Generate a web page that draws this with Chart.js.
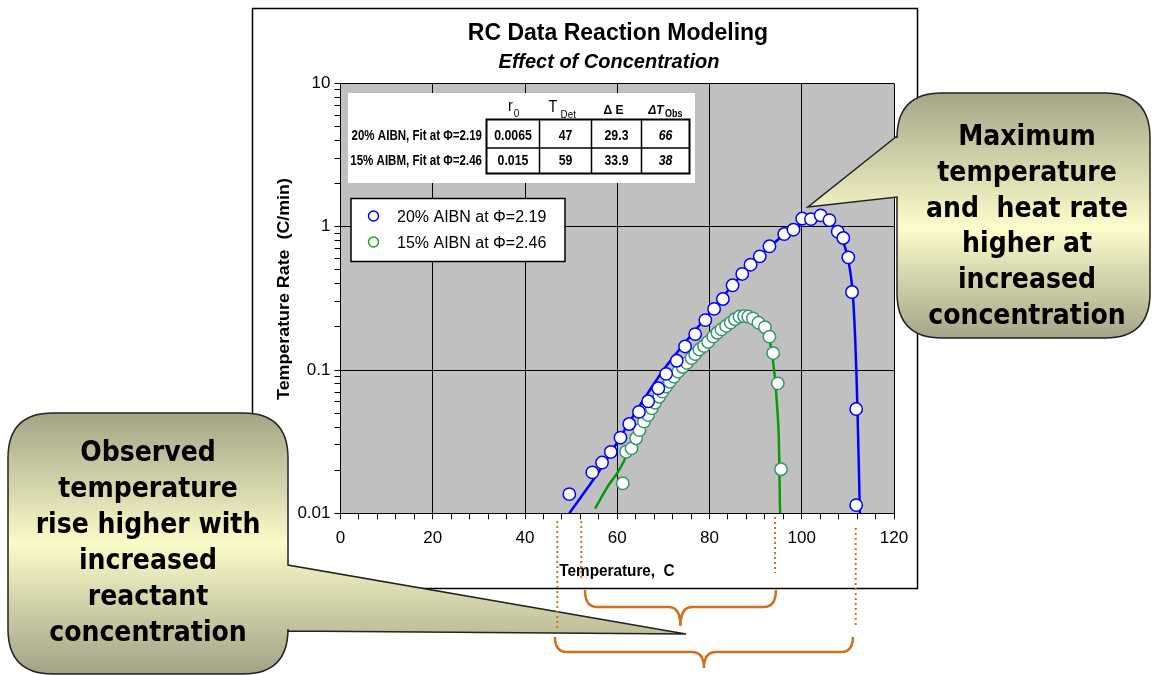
<!DOCTYPE html>
<html>
<head>
<meta charset="utf-8">
<script src="https://cdn.jsdelivr.net/npm/chart.js@4.4.1/dist/chart.umd.min.js"></script>
<style>
  html, body { margin: 0; padding: 0; background: #fff; }
  #wrap { width: 1152px; height: 675px; position: relative; }
</style>
</head>
<body>
<div id="wrap"><canvas id="chart"></canvas></div>
<script>
// observed points, 20% AIBN
const blueTemp = [49.6, 54.6, 56.7, 58.6, 60.7, 62.6, 64.7, 66.7, 68.9, 70.6, 72.9, 74.7, 76.9, 79.1, 81.0,
  82.9, 85.0, 87.1, 88.9, 90.9, 93.0, 96.2, 98.2, 100.1, 102.0, 104.1, 106.0, 107.8, 109.0, 110.1, 110.9, 111.8, 111.8];
const blueRate = [0.0136, 0.0193, 0.0226, 0.0268, 0.0337, 0.042, 0.051, 0.0605, 0.0745, 0.094, 0.116, 0.146, 0.178, 0.223, 0.267,
  0.313, 0.39, 0.468, 0.543, 0.621, 0.73, 0.889, 0.953, 1.14, 1.13, 1.2, 1.11, 0.923, 0.834, 0.611, 0.35, 0.0534, 0.0114];

// observed points, 15% AIBN
const greenTemp = [61.2, 61.9, 63.1, 64.1, 64.8, 65.8, 66.7, 67.5, 68.2, 69.1, 69.8, 70.6, 71.4, 72.3, 73.2, 74.2, 75.1, 76.1, 76.9,
  77.8, 78.8, 79.7, 80.8, 81.7, 82.6, 83.6, 84.6, 85.5, 86.5, 87.5, 88.4, 89.4, 90.6, 92.0, 93.0, 93.8, 94.8, 95.5];
const greenRate = [0.0162, 0.0269, 0.0284, 0.0334, 0.0381, 0.0436, 0.0485, 0.054, 0.0591, 0.0651, 0.0706, 0.0765, 0.0828, 0.0898, 0.0973, 0.105, 0.112, 0.121, 0.129,
  0.139, 0.147, 0.157, 0.171, 0.182, 0.192, 0.203, 0.214, 0.226, 0.236, 0.238, 0.236, 0.229, 0.214, 0.199, 0.171, 0.131, 0.0807, 0.0203];

// model fit curves
const blueFitTemp = [49.6, 52, 55, 58, 61, 64, 67, 70, 73, 76, 79, 82, 85, 88, 91, 94, 97, 100, 102.5, 104.5, 106.5, 108.5, 110, 111, 111.6, 112.1, 112.6];
const blueFitRate = [0.01, 0.0128, 0.0175, 0.0245, 0.0355, 0.051, 0.072, 0.1, 0.133, 0.175, 0.228, 0.3, 0.39, 0.5, 0.63, 0.77, 0.92, 1.05, 1.12, 1.12, 1.04, 0.85, 0.6, 0.36, 0.16, 0.05, 0.01];
const greenFitTemp = [55.2, 58, 60.2, 63, 66, 70, 75, 80, 85, 88, 91, 93, 94, 94.6, 95, 95.3];
const greenFitRate = [0.0108, 0.0155, 0.0195, 0.029, 0.044, 0.072, 0.11, 0.16, 0.215, 0.236, 0.21, 0.16, 0.1, 0.06, 0.035, 0.01];

const xMajorTicks = [0, 20, 40, 60, 80, 100, 120];
const xMinorStep = 4;
const yMajorTicks = [0.01, 0.1, 1, 10];
const yTickLabels = ['0.01', '0.1', '1', '10'];

const seriesNames = ['20% AIBN at \u03A6=2.19', '15% AIBN at \u03A6=2.46'];
const tableRowNames = ['20% AIBN, Fit at \u03A6=2.19', '15% AIBM, Fit at \u03A6=2.46'];
const tableValues = [['0.0065', '47', '29.3', '66'], ['0.015', '59', '33.9', '38']];

// dotted guide temperatures and brace spans
const guideTemps = [47, 52.2, 94.2, 111.7];
const upperBrace = [53.0, 94.4];
const lowerBrace = [46.5, 111.1];

const leftNote = ['Observed', 'temperature', 'rise higher with', 'increased', 'reactant', 'concentration'];
const rightNote = ['Maximum', 'temperature', 'and  heat rate', 'higher at', 'increased', 'concentration'];

const SANS = "'Liberation Sans', Arial, sans-serif";
const BLUE = '#0000ff';
const GREEN_LINE = '#089a08';
const GREEN_PT = '#35966a';
const ORANGE = '#d2701a';

Chart.defaults.font.family = SANS;
Chart.defaults.color = '#000';

const pts = (xs, ys) => xs.map((x, i) => ({ x: x, y: ys[i] }));
const isYMajor = (v) => yMajorTicks.some((m) => Math.abs(v - m) / m < 1e-6);

function txt(ctx, s, x, y, font, align, sx) {
  ctx.save();
  ctx.font = font;
  ctx.textAlign = align || 'left';
  ctx.textBaseline = 'alphabetic';
  ctx.translate(x, y);
  ctx.scale(sx || 1, 1);
  ctx.fillStyle = '#000';
  ctx.fillText(s, 0, 0);
  ctx.restore();
}

function callout(ctx, box, r, tail, grad) {
  const [x1, y1, x2, y2] = box;
  ctx.beginPath();
  ctx.moveTo(x1 + r, y1);
  ctx.lineTo(x2 - r, y1);
  ctx.quadraticCurveTo(x2, y1, x2, y1 + r);
  if (tail.side === 'right') {
    ctx.lineTo(x2, tail.a);
    ctx.lineTo(tail.tip[0], tail.tip[1]);
    ctx.lineTo(x2, tail.b);
  }
  ctx.lineTo(x2, y2 - r);
  ctx.quadraticCurveTo(x2, y2, x2 - r, y2);
  ctx.lineTo(x1 + r, y2);
  ctx.quadraticCurveTo(x1, y2, x1, y2 - r);
  if (tail.side === 'left') {
    ctx.lineTo(x1, tail.b);
    ctx.lineTo(tail.tip[0], tail.tip[1]);
    ctx.lineTo(x1, tail.a);
  }
  ctx.lineTo(x1, y1 + r);
  ctx.quadraticCurveTo(x1, y1, x1 + r, y1);
  ctx.closePath();
  const g = ctx.createLinearGradient(0, y1, 0, y2);
  grad.forEach(([p, c]) => g.addColorStop(p, c));
  ctx.fillStyle = g;
  ctx.fill();
  ctx.strokeStyle = '#222';
  ctx.lineWidth = 1.5;
  ctx.stroke();
}

function brace(ctx, xa, xb, yTop, yMid, yTip) {
  const xm = (xa + xb) / 2, r = 12;
  ctx.beginPath();
  ctx.moveTo(xa, yTop);
  ctx.quadraticCurveTo(xa, yMid, xa + r, yMid);
  ctx.lineTo(xm - r, yMid);
  ctx.quadraticCurveTo(xm, yMid, xm, yTip);
  ctx.quadraticCurveTo(xm, yMid, xm + r, yMid);
  ctx.lineTo(xb - r, yMid);
  ctx.quadraticCurveTo(xb, yMid, xb, yTop);
  ctx.stroke();
}

const decor = {
  id: 'decor',
  beforeDraw(chart) {
    const ctx = chart.ctx, a = chart.chartArea;
    ctx.save();
    ctx.fillStyle = '#fff';
    ctx.fillRect(0, 0, chart.width, chart.height);
    ctx.strokeStyle = '#000';
    ctx.lineWidth = 1.5;
    ctx.strokeRect(252.5, 8.5, 665, 580);
    ctx.fillStyle = '#c0c0c0';
    ctx.fillRect(a.left, a.top, a.right - a.left, a.bottom - a.top);
    ctx.restore();
  },
  afterDraw(chart) {
    const ctx = chart.ctx;
    const xs = chart.scales.x;
    ctx.save();

    // titles
    txt(ctx, 'RC Data Reaction Modeling', 618, 40, 'bold 23px ' + SANS, 'center');
    txt(ctx, 'Effect of Concentration', 609, 68, 'italic bold 20px ' + SANS, 'center');

    // axis titles
    txt(ctx, 'Temperature,  C', 617, 576, 'bold 17px ' + SANS, 'center', 0.9);
    ctx.save();
    ctx.translate(289, 289);
    ctx.rotate(-Math.PI / 2);
    txt(ctx, 'Temperature Rate  (C/min)', 0, 0, 'bold 17px ' + SANS, 'center', 1.05);
    ctx.restore();

    // parameter table
    ctx.fillStyle = '#fff';
    ctx.fillRect(348, 93, 347, 90);
    const cols = [486.5, 539.5, 591.5, 641.5, 689.5];
    const rows = [119.5, 148, 173.5];
    ctx.strokeStyle = '#000';
    ctx.lineWidth = 2;
    ctx.strokeRect(cols[0], rows[0], cols[4] - cols[0], rows[2] - rows[0]);
    ctx.lineWidth = 1.5;
    ctx.beginPath();
    for (let i = 1; i < 4; i++) { ctx.moveTo(cols[i], rows[0]); ctx.lineTo(cols[i], rows[2]); }
    ctx.moveTo(cols[0], rows[1]); ctx.lineTo(cols[4], rows[1]);
    ctx.stroke();

    txt(ctx, 'r', 510.5, 111, '17px ' + SANS, 'center', 0.85);
    txt(ctx, '0', 516.5, 117, '10px ' + SANS, 'center');
    txt(ctx, 'T', 553, 112, '17px ' + SANS, 'center', 0.85);
    txt(ctx, 'Det', 560.5, 117.5, '11px ' + SANS, 'left', 0.9);
    txt(ctx, '\u0394 E', 613.5, 113.5, 'bold 12px ' + SANS, 'center');
    txt(ctx, '\u0394T', 656, 113.5, 'italic bold 12px ' + SANS, 'center');
    txt(ctx, 'Obs', 665, 116.5, 'bold 10px ' + SANS, 'left', 0.9);

    const baselines = [139.5, 165];
    tableRowNames.forEach((name, r) => {
      txt(ctx, name, 482, baselines[r], 'bold 15px ' + SANS, 'right', 0.77);
      tableValues[r].forEach((v, c) => {
        const cx = (cols[c] + cols[c + 1]) / 2;
        txt(ctx, v, cx, baselines[r], (c === 3 ? 'italic bold ' : 'bold ') + '15px ' + SANS, 'center', 0.82);
      });
    });

    // legend
    ctx.fillStyle = '#fff';
    ctx.fillRect(351, 198.5, 214, 63);
    ctx.strokeStyle = '#000';
    ctx.lineWidth = 1.5;
    ctx.strokeRect(351, 198.5, 214, 63);
    const legendColors = [BLUE, '#1f9f1f'];
    seriesNames.forEach((name, i) => {
      const y = 216 + i * 26;
      ctx.beginPath();
      ctx.arc(373.5, y, 5, 0, Math.PI * 2);
      ctx.fillStyle = '#fff';
      ctx.fill();
      ctx.strokeStyle = legendColors[i];
      ctx.lineWidth = 1.5;
      ctx.stroke();
      txt(ctx, name, 397, y + 6, '16px ' + SANS, 'left');
    });

    // callouts
    callout(ctx, [8, 413, 288, 674], 45, { side: 'right', a: 565, b: 631, tip: [686, 634] },
      [[0, '#a4a486'], [0.5, '#fbfbc9'], [1, '#a2a286']]);
    callout(ctx, [897, 93, 1150, 338], 45, { side: 'left', a: 136, b: 197, tip: [808, 207] },
      [[0, '#a6a688'], [0.55, '#fcfccb'], [1, '#a4a488']]);

    leftNote.forEach((s, i) => txt(ctx, s, 148, 461 + i * 35.9, 'bold 28px DejaVu Sans, sans-serif', 'center', 0.9));
    rightNote.forEach((s, i) => txt(ctx, s, 1027, 145 + i * 35.8, 'bold 28px DejaVu Sans, sans-serif', 'center', 0.9));

    // dotted guides and braces
    ctx.strokeStyle = ORANGE;
    ctx.lineWidth = 2;
    ctx.setLineDash([2, 3]);
    const guideSpans = [[521, 628], [521, 580], [517, 573], [528, 625]];
    guideTemps.forEach((t, i) => {
      const x = xs.getPixelForValue(t);
      ctx.beginPath();
      ctx.moveTo(x, guideSpans[i][0]);
      ctx.lineTo(x, guideSpans[i][1]);
      ctx.stroke();
    });
    ctx.setLineDash([]);
    ctx.lineWidth = 2.5;
    brace(ctx, xs.getPixelForValue(upperBrace[0]), xs.getPixelForValue(upperBrace[1]), 590, 607, 626);
    brace(ctx, xs.getPixelForValue(lowerBrace[0]), xs.getPixelForValue(lowerBrace[1]), 637, 652, 668);

    ctx.restore();
  }
};

new Chart(document.getElementById('chart'), {
  type: 'scatter',
  data: {
    datasets: [
      { label: 'fit 20%', data: pts(blueFitTemp, blueFitRate), showLine: true, pointRadius: 0,
        borderColor: BLUE, borderWidth: 2.5, tension: 0.3, order: 4 },
      { label: 'fit 15%', data: pts(greenFitTemp, greenFitRate), showLine: true, pointRadius: 0,
        borderColor: GREEN_LINE, borderWidth: 2.5, tension: 0.3, order: 3 },
      { label: seriesNames[1], data: pts(greenTemp, greenRate), pointRadius: 6.2, borderWidth: 1.5,
        pointBackgroundColor: '#fff', pointBorderColor: GREEN_PT, order: 2 },
      { label: seriesNames[0], data: pts(blueTemp, blueRate), pointRadius: 6.2, borderWidth: 1.5,
        pointBackgroundColor: '#fff', pointBorderColor: BLUE, order: 1 }
    ]
  },
  options: {
    responsive: true,
    maintainAspectRatio: false,
    animation: false,
    devicePixelRatio: 1,
    layout: { padding: { left: 280.5, right: 258, top: 83.4, bottom: 121.7 } },
    plugins: { legend: { display: false }, title: { display: false }, tooltip: { enabled: false } },
    scales: {
      x: {
        type: 'linear', min: 0, max: 120,
        afterBuildTicks: (scale) => {
          const t = [];
          for (let v = xMajorTicks[0]; v <= xMajorTicks[xMajorTicks.length - 1]; v += xMinorStep) t.push({ value: v });
          scale.ticks = t;
        },
        afterFit: (scale) => { scale.height = 40; },
        ticks: {
          autoSkip: false, maxRotation: 0, padding: 9,
          font: { size: 17 }, color: '#000',
          callback: (v) => (xMajorTicks.includes(v) ? String(v) : '')
        },
        grid: {
          color: (c) => (c.tick && xMajorTicks.includes(c.tick.value) ? '#000' : 'rgba(0,0,0,0)'),
          tickColor: '#000', tickLength: 6, lineWidth: 1
        },
        border: { color: '#000', width: 1 }
      },
      y: {
        type: 'logarithmic', min: 0.01, max: 10,
        afterBuildTicks: (scale) => {
          const t = [];
          yMajorTicks.forEach((base, d) => {
            t.push({ value: base });
            if (d < yMajorTicks.length - 1) {
              for (let k = 2; k <= 9; k++) t.push({ value: +(base * k).toPrecision(3) });
            }
          });
          scale.ticks = t;
        },
        afterFit: (scale) => { scale.width = 60; },
        ticks: {
          autoSkip: false, padding: 4,
          font: { size: 17 }, color: '#000',
          callback: (v) => {
            const i = yMajorTicks.findIndex((m) => Math.abs(v - m) / m < 1e-6);
            return i >= 0 ? yTickLabels[i] : '';
          }
        },
        grid: {
          color: (c) => (c.tick && isYMajor(c.tick.value) ? '#000' : 'rgba(0,0,0,0)'),
          tickColor: '#000', tickLength: 6, lineWidth: 1
        },
        border: { color: '#000', width: 1 }
      }
    }
  },
  plugins: [decor]
});
</script>
</body>
</html>
